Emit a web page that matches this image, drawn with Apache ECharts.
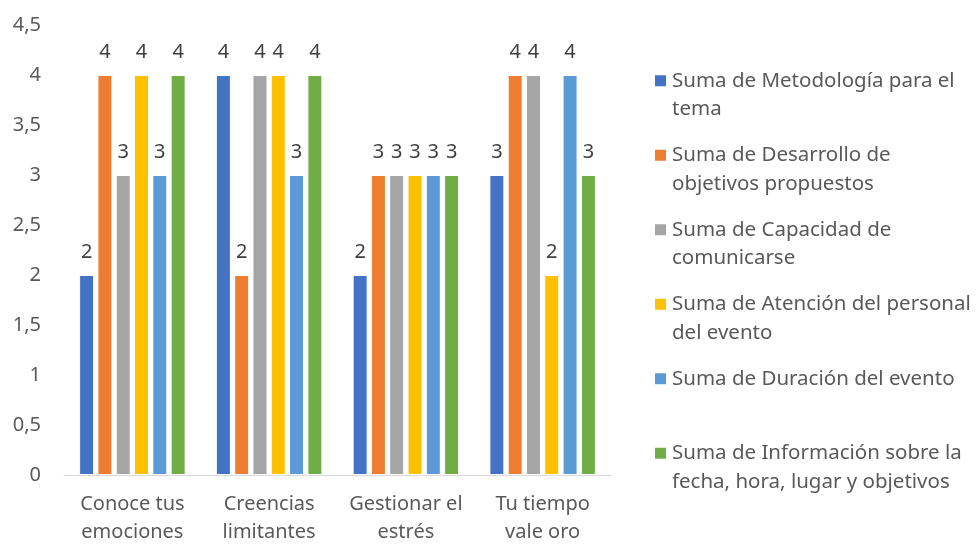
<!DOCTYPE html>
<html>
<head>
<meta charset="utf-8">
<script src="https://cdn.jsdelivr.net/npm/echarts@6/dist/echarts.min.js"></script>
<style>
  html, body { margin: 0; padding: 0; background: #fff; }
  #main { width: 977px; height: 544px; }
</style>
</head>
<body>
<div id="main"></div>
<script>
const categories = ['Conoce tus\nemociones', 'Creencias\nlimitantes', 'Gestionar el\nestrés', 'Tu tiempo\nvale oro'];
const seriesNames = [
  'Suma de Metodología para el\ntema',
  'Suma de Desarrollo de\nobjetivos propuestos',
  'Suma de Capacidad de\ncomunicarse',
  'Suma de Atención del personal\ndel evento',
  'Suma de Duración del evento',
  'Suma de Información sobre la\nfecha, hora, lugar y objetivos'
];
const metodologia = [2, 4, 2, 3];
const desarrollo = [4, 2, 3, 4];
const capacidad = [3, 4, 3, 4];
const atencion = [4, 4, 3, 2];
const duracion = [3, 3, 3, 4];
const informacion = [4, 4, 3, 3];
const colors = ['#4472C4', '#ED7D31', '#A5A5A5', '#FFC000', '#5B9BD5', '#70AD47'];

const values = [metodologia, desarrollo, capacidad, atencion, duracion, informacion];
const font = 'Noto Sans';
const L = 28.5;

const chart = echarts.init(document.getElementById('main'));
chart.setOption({
  animation: false,
  color: colors,
  grid: { left: 64, right: 366, top: 25, bottom: 69, outerBoundsMode: 'none', containLabel: false },
  xAxis: {
    type: 'category',
    data: categories,
    axisLine: { lineStyle: { color: '#d9d9d9', width: 1 } },
    axisTick: { show: false },
    axisLabel: { interval: 0, color: '#595959', fontFamily: font, fontSize: 20, lineHeight: 28, margin: 15 }
  },
  yAxis: {
    type: 'value',
    min: 0, max: 4.5, interval: 0.5,
    splitLine: { show: false },
    axisLine: { show: false },
    axisTick: { show: false },
    axisLabel: {
      color: '#595959', fontFamily: font, fontSize: 20, margin: 23,
      formatter: v => String(v).replace('.', ',')
    }
  },
  legend: {
    orient: 'vertical',
    left: 653,
    top: 38,
    padding: 0,
    itemGap: 74.5 - 3 * L,
    itemWidth: 13,
    itemHeight: 13,
    icon: 'rect',
    selectedMode: false,
    // three lines each (blank, line 1, line 2) so the square sits by the first text line
    formatter: n => ' \n' + (n.indexOf('\n') >= 0 ? n : n + '\n '),
    textStyle: { color: '#595959', fontFamily: font, fontSize: 20.5, lineHeight: L },
    data: seriesNames
  },
  series: seriesNames.map((n, i) => ({
    name: n,
    type: 'bar',
    data: values[i],
    barWidth: 15,
    barGap: '22%',
    itemStyle: { borderColor: '#fff', borderWidth: 1 },
    label: {
      show: true, position: 'top', distance: 13,
      color: '#404040', fontFamily: font, fontSize: 20
    }
  }))
});
</script>
</body>
</html>
